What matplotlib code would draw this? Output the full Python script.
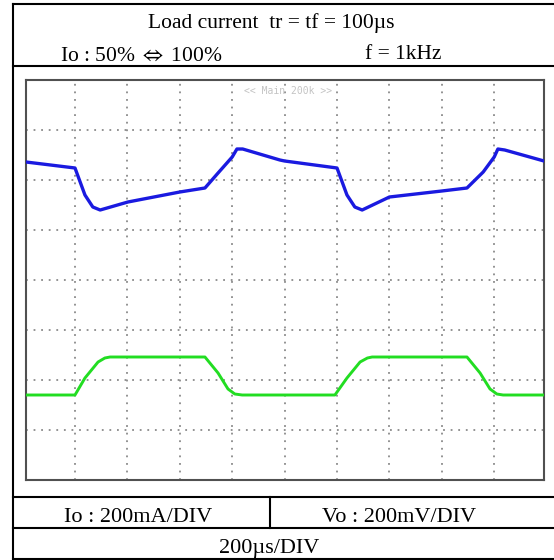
import matplotlib
matplotlib.use("Agg")
import matplotlib.pyplot as plt
from matplotlib.lines import Line2D

plt.rcParams["mathtext.fontset"] = "stix"

# Scope traces, in graticule divisions (x: 10 divs at 200us/div, y: 8 divs)
vo_x = [0.065, 1.0, 1.19, 1.34, 1.48, 2.01, 3.0, 3.48, 3.73, 4.0, 4.09, 4.2, 4.91, 5.0,
        6.0, 6.19, 6.34, 6.48, 7.0, 8.0, 8.48, 8.79, 9.0, 9.07, 9.2, 9.95]
vo_y = [6.36, 6.24, 5.70, 5.46, 5.40, 5.56, 5.76, 5.84, 6.14, 6.46, 6.62, 6.62, 6.40, 6.38,
        6.24, 5.70, 5.46, 5.40, 5.66, 5.78, 5.84, 6.16, 6.46, 6.62, 6.60, 6.38]

io_x = [0.065, 1.0, 1.19, 1.44, 1.57, 1.67, 3.48, 3.73, 3.92, 4.05, 4.19,
        5.96, 6.19, 6.44, 6.58, 6.67, 8.48, 8.73, 8.92, 9.05, 9.17, 9.95]
io_y = [1.70, 1.70, 2.04, 2.36, 2.44, 2.46, 2.46, 2.14, 1.82, 1.72, 1.70,
        1.70, 2.04, 2.36, 2.44, 2.46, 2.46, 2.14, 1.82, 1.72, 1.70, 1.70]

title_line = "Load current  tr = tf = 100\u00b5s"
cond_left = r"Io : 50% $\Leftrightarrow$ 100%"
cond_right = "f = 1kHz"
scale_io = "Io : 200mA/DIV"
scale_vo = "Vo : 200mV/DIV"
scale_t = "200\u00b5s/DIV"
scope_tag = "<< Main 200k >>"

W, H = 554, 560
fig = plt.figure(figsize=(W / 100, H / 100), dpi=100)
fig.patch.set_facecolor("white")


def fx(px):
    return px / W


def fy(py):
    return 1 - py / H


serif = ["Liberation Serif", "DejaVu Serif"]


# Table frame around the screenshot
def hline(py, x0=13, x1=W):
    fig.add_artist(Line2D([fx(x0), fx(x1)], [fy(py), fy(py)], color="black", lw=1.5))


def vline(px, y0, y1):
    fig.add_artist(Line2D([fx(px), fx(px)], [fy(y0), fy(y1)], color="black", lw=1.5))


hline(4)
hline(66)
hline(497)
hline(528)
hline(559)
vline(13, 4, 559)
vline(270, 497, 528)

fig.text(fx(271), fy(28), title_line, family=serif, fontsize=15.5, ha="center", va="baseline")
fig.text(fx(141), fy(61), cond_left, family=serif, fontsize=15.5, ha="center", va="baseline")
fig.text(fx(403), fy(59), cond_right, family=serif, fontsize=15.5, ha="center", va="baseline")
fig.text(fx(138), fy(522), scale_io, family=serif, fontsize=16, ha="center", va="baseline")
fig.text(fx(399), fy(522), scale_vo, family=serif, fontsize=16, ha="center", va="baseline")
fig.text(fx(269), fy(553), scale_t, family=serif, fontsize=16, ha="center", va="baseline")

# Scope screen
ax = fig.add_axes([fx(26), fy(480), (544 - 26) / W, 400 / H])
ax.set_xlim(0.065, 9.95)
ax.set_ylim(0, 8)
for k in range(1, 10):
    ax.axvline(k, color="#8a8a8a", lw=1.3, ls=(0, (1, 3.2)), zorder=1)
for k in range(1, 8):
    ax.axhline(k, color="#8a8a8a", lw=1.3, ls=(0, (1, 3.2)), zorder=1)
ax.plot(vo_x, vo_y, color="#1a1ae0", lw=2.4, zorder=3, solid_joinstyle="round")
ax.plot(io_x, io_y, color="#22dd22", lw=2.1, zorder=3, solid_joinstyle="round")
ax.text(0.505, 0.985, scope_tag, transform=ax.transAxes, family="DejaVu Sans Mono",
        fontsize=7, color="#c4c4c4", ha="center", va="top")
ax.set_xticks([])
ax.set_yticks([])
for s in ax.spines.values():
    s.set_color("#505050")
    s.set_linewidth(1.5)

fig.savefig("out.png", dpi=100)
